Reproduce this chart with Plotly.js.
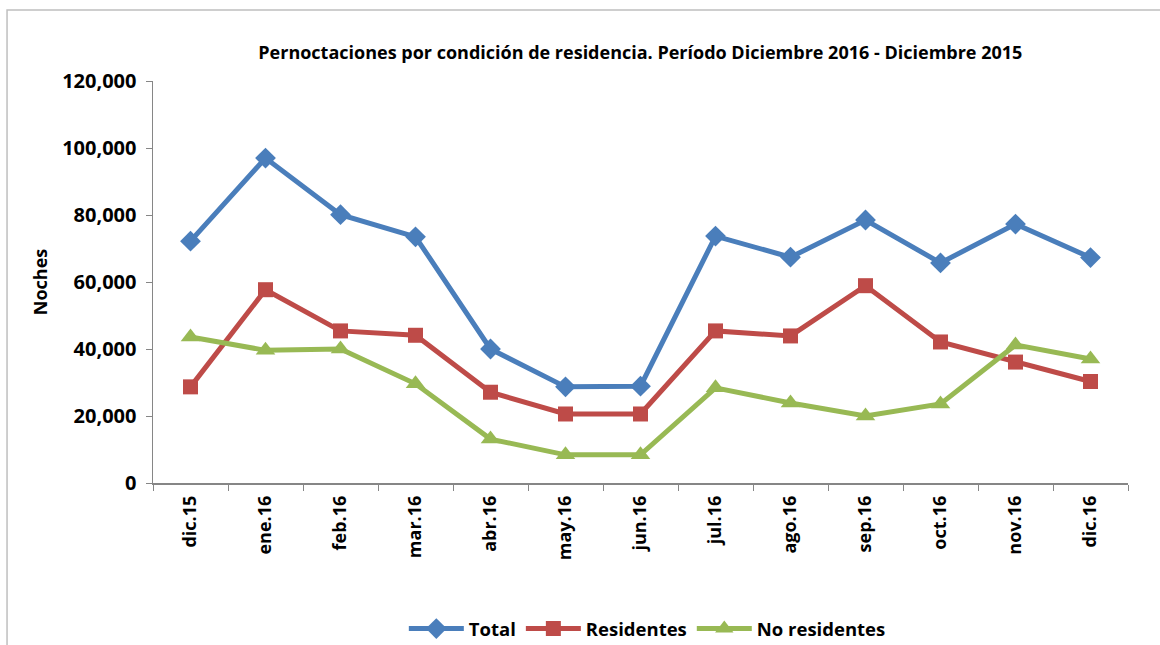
<!DOCTYPE html>
<html>
<head>
<meta charset="utf-8">
<script src="https://cdn.plot.ly/plotly-3.0.1.min.js"></script>
<style>html,body{margin:0;padding:0;background:#fff;}#chart{width:1160px;height:645px;}</style>
</head>
<body>
<div id="chart"></div>
<script>
const months = ["dic.15","ene.16","feb.16","mar.16","abr.16","may.16","jun.16","jul.16","ago.16","sep.16","oct.16","nov.16","dic.16"];
const total = [72200, 97000, 80100, 73500, 40000, 28700, 28900, 73700, 67400, 78500, 65700, 77300, 67300];
const residentes = [28700, 57700, 45400, 44100, 27100, 20600, 20600, 45400, 43900, 58900, 42100, 36100, 30300];
const noResidentes = [43600, 39600, 40000, 29600, 13100, 8400, 8400, 28400, 23900, 20000, 23600, 41200, 37000];
const seriesNames = ["Total", "Residentes", "No residentes"];

const font = "'Open Sans', 'Liberation Sans', sans-serif";
const traces = [
  {x: months, y: total, name: seriesNames[0], mode: "lines+markers",
   line: {color: "#4a7ebb", width: 5}, marker: {symbol: "diamond", size: 16, color: "#4a7ebb"}},
  {x: months, y: residentes, name: seriesNames[1], mode: "lines+markers",
   line: {color: "#be4b48", width: 5}, marker: {symbol: "square", size: 15, color: "#be4b48"}},
  {x: months, y: noResidentes, name: seriesNames[2], mode: "lines+markers",
   line: {color: "#98b954", width: 5}, marker: {symbol: "triangle-up", size: 17, color: "#98b954"}}
];

const layout = {
  width: 1160, height: 645,
  margin: {l: 153, r: 32, t: 81, b: 162},
  paper_bgcolor: "#fff", plot_bgcolor: "#fff",
  font: {family: font, color: "#000", size: 16},
  title: {text: "<b>Pernoctaciones por condición de residencia. Período Diciembre 2016 - Diciembre 2015</b>",
          font: {size: 18, family: font, color: "#000"}, x: 0.552, xanchor: "center", y: 0.919, yanchor: "middle"},
  xaxis: {type: "category", automargin: false, showgrid: false, zeroline: false, showline: true, linecolor: "#868686", linewidth: 1.5,
          ticks: "outside", ticklen: 6, tickcolor: "#868686", tickson: "boundaries", ticklabelstandoff: 4,
          tickangle: -90, tickfont: {size: 18, family: font, color: "#000", weight: "bold"},
          range: [-0.5, 12.5]},
  yaxis: {range: [0, 120000], dtick: 20000, tickformat: ",d", automargin: false, showgrid: false, zeroline: false,
          showline: true, linecolor: "#868686", linewidth: 1.5, ticks: "outside", ticklen: 6, tickcolor: "#868686",
          ticklabelstandoff: 5,
          tickfont: {size: 20, family: font, color: "#000", weight: "bold"},
          title: {text: "<b>Noches</b>", font: {size: 18, family: font, color: "#000"}, standoff: 10}},
  showlegend: true,
  legend: {orientation: "h", xref: "paper", yref: "container", x: 0.507, xanchor: "center", y: 0.0248, yanchor: "middle",
           font: {size: 18.5, family: font, color: "#000", weight: "bold"}, tracegroupgap: 0, borderwidth: 0, itemwidth: 55},
  shapes: [{type: "rect", xref: "paper", yref: "paper", x0: -0.1497, x1: 1.2, y0: -1, y1: 1.1766,
            line: {color: "#bfbfbf", width: 1.5}, fillcolor: "rgba(0,0,0,0)", layer: "below"}]
};

Plotly.newPlot("chart", traces, layout, {displayModeBar: false, staticPlot: true});
</script>
</body>
</html>
